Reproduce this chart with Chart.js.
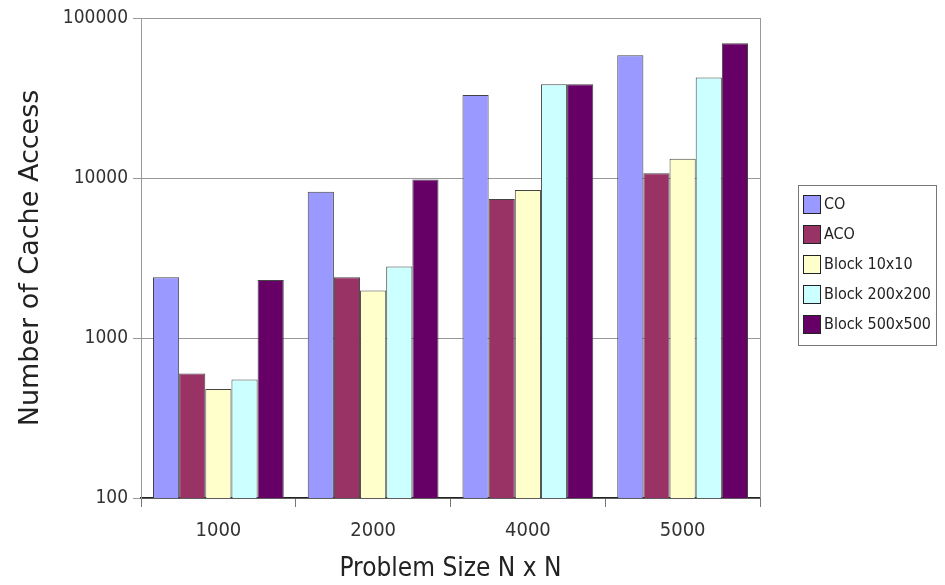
<!DOCTYPE html>
<html>
<head>
<meta charset="utf-8">
<script src="https://cdn.jsdelivr.net/npm/chart.js@4.4.1/dist/chart.umd.min.js"></script>
<style>
  body { margin: 0; background: #fff; }
  #c { display: block; }
</style>
</head>
<body>
<canvas id="c" width="945" height="585"></canvas>
<script>
// problem sizes (N x N)
var sizes = ["1000", "2000", "4000", "5000"];
// number of cache access per algorithm
var coData = [2400, 8200, 33000, 58500];
var acoData = [600, 2400, 7400, 10700];
var block10Data = [480, 1980, 8400, 13200];
var block200Data = [550, 2800, 38500, 42500];
var block500Data = [2300, 9800, 38500, 69500];
var yTicks = [100, 1000, 10000, 100000];

var labelFont = "'DejaVu Sans Condensed', 'DejaVu Sans', sans-serif";

// legend in a box at right, drawn by hand
var boxLegend = {
    id: 'boxLegend',
    afterDraw: function (chart) {
        var ctx = chart.ctx;
        var area = chart.chartArea;
        ctx.save();
        // right border of the plot
        ctx.strokeStyle = '#999';
        ctx.lineWidth = 1;
        ctx.beginPath();
        ctx.moveTo(area.right + 0.5, area.top);
        ctx.lineTo(area.right + 0.5, area.bottom);
        ctx.stroke();

        var x0 = 798, y0 = 185, w = 138, h = 160;
        ctx.strokeStyle = '#777';
        ctx.strokeRect(x0 + 0.5, y0 + 0.5, w, h);
        ctx.font = "16px " + labelFont;
        ctx.textBaseline = 'middle';
        chart.data.datasets.forEach(function (ds, i) {
            var cy = y0 + 19 + i * 30;
            ctx.fillStyle = ds.backgroundColor;
            ctx.fillRect(803, cy - 9, 17, 18);
            ctx.strokeStyle = '#222';
            ctx.strokeRect(803.5, cy - 8.5, 17, 18);
            ctx.fillStyle = '#222';
            ctx.fillText(ds.label, 824, cy + 1);
        });
        ctx.restore();
    }
};

function makeSet(label, data, color) {
    return {
        label: label,
        data: data,
        backgroundColor: color,
        borderColor: '#444',
        borderWidth: 1,
        categoryPercentage: 0.845,
        barPercentage: 1.0
    };
}

new Chart(document.getElementById('c').getContext('2d'), {
    type: 'bar',
    data: {
        labels: sizes,
        datasets: [
            makeSet('CO', coData, '#9999ff'),
            makeSet('ACO', acoData, '#993366'),
            makeSet('Block 10x10', block10Data, '#ffffcc'),
            makeSet('Block 200x200', block200Data, '#ccffff'),
            makeSet('Block 500x500', block500Data, '#660066')
        ]
    },
    options: {
        responsive: false,
        animation: false,
        devicePixelRatio: 1,
        layout: { padding: { top: 18, right: 185, left: 0, bottom: 0 } },
        plugins: {
            legend: { display: false },
            tooltip: { enabled: false }
        },
        scales: {
            x: {
                afterFit: function (s) { s.height = 87; },
                grid: {
                    offset: true,
                    drawOnChartArea: false,
                    tickLength: 9,
                    color: function (c) { return c.index === 4 ? 'rgba(0,0,0,0)' : '#777'; }
                },
                border: { color: '#222', width: 1.5 },
                ticks: {
                    padding: 12,
                    color: '#333',
                    font: { family: labelFont, size: 20 }
                },
                title: {
                    display: true,
                    text: 'Problem Size N x N',
                    color: '#222',
                    font: { family: labelFont, size: 26 },
                    padding: { top: 0, bottom: 0 }
                }
            },
            y: {
                type: 'logarithmic',
                min: 100,
                max: 100000,
                afterFit: function (s) { s.width = 141; },
                afterBuildTicks: function (s) {
                    s.ticks = yTicks.map(function (v) { return { value: v }; });
                },
                grid: { color: '#999', tickLength: 8 },
                border: { color: '#999' },
                ticks: {
                    padding: 5,
                    color: '#333',
                    font: { family: labelFont, size: 19 },
                    callback: function (v) { return String(v); }
                },
                title: {
                    display: true,
                    text: 'Number of Cache Access',
                    color: '#222',
                    font: { family: "'DejaVu Sans', sans-serif", size: 27 },
                    padding: { top: 15, bottom: 0 }
                }
            }
        }
    },
    plugins: [boxLegend]
});
</script>
</body>
</html>
